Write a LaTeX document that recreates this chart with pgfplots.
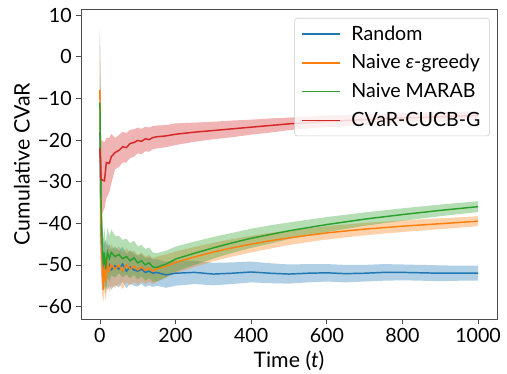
\documentclass[border=0pt]{standalone}
\usepackage{pgfplots}
\pgfplotsset{compat=1.18}
\usepackage{pgfplotstable}
\usepgfplotslibrary{fillbetween}
\usepackage{fontspec}
\setmainfont{Lato}
\definecolor{cA}{HTML}{1F77B4}
\definecolor{cB}{HTML}{FF7F0E}
\definecolor{cC}{HTML}{2CA02C}
\definecolor{cD}{HTML}{D62728}

\pgfplotstableread{
t m lo hi
0 -18 -45 5
3 -40 -52 -28
6 -48 -56 -40
10 -50.5 -56 -45
15 -49.5 -55 -44
20 -50.8 -56 -45.6
25 -50.0 -55 -45
30 -51.2 -56 -46.4
40 -50.2 -54.8 -45.6
50 -51.0 -55.4 -46.6
60 -49.8 -54 -45.6
70 -51.5 -55.6 -47.4
80 -50.5 -54.5 -46.5
90 -51.2 -55 -47.4
100 -51.5 -55.2 -47.8
110 -51.0 -54.6 -47.4
120 -51.8 -55.3 -48.3
130 -51.5 -54.9 -48.1
140 -52.0 -55.3 -48.7
150 -51.8 -55.0 -48.6
175 -52.4 -55.5 -49.3
200 -52.0 -55.0 -49.0
250 -51.8 -54.6 -49.0
300 -52.2 -54.9 -49.5
350 -52.0 -54.6 -49.4
400 -51.7 -54.2 -49.2
450 -52.0 -54.4 -49.6
500 -52.2 -54.5 -49.9
550 -52.0 -54.2 -49.8
600 -51.9 -54.0 -49.8
650 -52.1 -54.2 -50.0
700 -52.0 -54.0 -50.0
750 -51.8 -53.8 -49.8
800 -51.8 -53.7 -49.9
850 -51.9 -53.8 -50.0
900 -52.0 -53.9 -50.1
950 -52.0 -53.8 -50.2
1000 -52.0 -53.8 -50.2
}\random

\pgfplotstableread{
t m lo hi
0 -8 -35 3
3 -42 -52 -32
6 -50 -57 -43
9 -56 -59 -50
12 -50 -56 -44
15 -54 -58.5 -49
20 -49.5 -55 -44.5
25 -51.5 -56.5 -46.5
30 -50.0 -55 -45
40 -51.0 -55.5 -46.5
50 -50.0 -54.5 -45.5
60 -51.5 -55.8 -47.2
70 -50.0 -54 -46
80 -51.0 -55 -47
90 -50.3 -54 -46.6
100 -51.2 -54.8 -47.6
110 -50.5 -54 -47
120 -51.3 -54.6 -48
130 -50.8 -54 -47.6
140 -51.5 -54.6 -48.4
150 -51.0 -54 -48
175 -50.3 -53.1 -47.5
200 -49.4 -52.0 -46.8
250 -48.1 -50.5 -45.7
300 -46.9 -49.1 -44.7
350 -45.9 -48.0 -43.8
400 -45.0 -47.0 -43.0
450 -44.2 -46.1 -42.3
500 -43.5 -45.2 -41.8
600 -42.3 -43.9 -40.7
700 -41.4 -42.9 -39.9
800 -40.7 -42.1 -39.3
900 -40.1 -41.4 -38.8
1000 -39.5 -40.7 -38.3
}\greedy

\pgfplotstableread{
t m lo hi
0 -11 -35 5
3 -35 -45 -25
6 -45 -52 -38
9 -50 -56 -44
12 -47 -53 -41
15 -51 -57 -45
20 -47 -53 -41
25 -48.5 -54 -43
30 -47.0 -52.5 -41.5
40 -48.0 -53 -43
50 -47.5 -52 -43
60 -48.5 -53 -44
70 -48.0 -52.3 -43.7
80 -49.0 -53.2 -44.8
90 -48.3 -52.4 -44.2
100 -49.5 -53.5 -45.5
110 -49.0 -52.8 -45.2
120 -50.0 -53.8 -46.2
130 -49.5 -53.2 -45.8
140 -50.5 -54 -47
150 -50.6 -54 -47.2
175 -49.8 -53 -46.6
200 -48.6 -51.6 -45.6
250 -47.2 -50.0 -44.4
300 -45.9 -48.5 -43.3
350 -44.7 -47.1 -42.3
400 -43.6 -45.9 -41.3
450 -42.7 -44.9 -40.5
500 -41.8 -43.8 -39.8
600 -40.3 -42.1 -38.5
700 -39.0 -40.6 -37.4
800 -37.9 -39.4 -36.4
900 -36.9 -38.3 -35.5
1000 -36.0 -37.3 -34.7
}\marab

\pgfplotstableread{
t m lo hi
0 -22.0 -45 7
3 -29.5 -38 -20
12 -29.8 -36.5 -20.5
17 -25.4 -34 -19.5
25 -25.6 -32.5 -19.5
30 -24.0 -30.5 -18.5
40 -23.0 -27 -19.5
50 -22.5 -26.5 -18.8
60 -21.6 -25.4 -18.0
70 -21.8 -25.4 -18.3
80 -20.8 -24.3 -17.5
90 -20.6 -24.0 -17.4
100 -20.1 -23.2 -17.0
110 -20.3 -23.4 -17.3
120 -19.7 -22.7 -16.8
130 -19.9 -22.8 -17.0
140 -19.4 -22.2 -16.6
150 -19.2 -22.0 -16.5
175 -19.0 -21.7 -16.4
200 -18.6 -21.2 -16.0
250 -18.1 -20.4 -15.8
300 -17.7 -19.8 -15.6
350 -17.3 -19.3 -15.3
400 -16.9 -18.7 -15.1
450 -16.5 -18.2 -14.8
500 -16.1 -17.6 -14.6
550 -15.8 -17.2 -14.4
600 -15.5 -16.9 -14.1
700 -15.1 -16.4 -13.8
800 -14.7 -15.9 -13.5
900 -14.4 -15.5 -13.3
1000 -14.1 -15.1 -13.1
}\cvar

\begin{document}
\begin{tikzpicture}
\begin{axis}[
  scale only axis,
  width=312pt, height=232.5pt,
  xmin=-50, xmax=1050, ymin=-63, ymax=11.5,
  xtick={0,200,400,600,800,1000},
  xticklabels={0,200,400,600,800,1000},
  ytick={-60,-50,-40,-30,-20,-10,0,10},
  yticklabels={−60,−50,−40,−30,−20,−10,0,10},
  tick align=outside,
  tick pos=left,
  major tick length=3.5pt,
  axis line style={black!70},
  every tick/.style={black!70, line width=0.6pt},
  ticklabel style={font=\fontsize{14.7}{17}\selectfont},
  label style={font=\fontsize{16}{19}\selectfont},
  xlabel={Time (\textit{t})},
  ylabel={Cumulative CVaR},
  xlabel style={yshift=1pt},
  ylabel style={yshift=-1pt},
  legend cell align=left,
  legend style={at={(0.983,0.971)}, anchor=north east,
    draw=black!20, rounded corners=2pt, fill=white, fill opacity=0.8, text opacity=1,
    font=\fontsize{14.7}{17}\selectfont, row sep=5.4pt, inner xsep=5pt, inner ysep=3.5pt,
    /tikz/every odd column/.append style={column sep=6pt}},
  legend image code/.code={\draw[#1, line width=1.1pt] (0pt,0pt) -- (28.5pt,0pt);},
  every axis plot/.append style={line width=1.1pt},
]
% Random
\addplot[draw=none, name path=ah, forget plot] table[x=t,y=hi] {\random};
\addplot[draw=none, name path=al, forget plot] table[x=t,y=lo] {\random};
\addplot[cA, fill opacity=0.35, draw=none, forget plot] fill between[of=ah and al];
% greedy
\addplot[draw=none, name path=bh, forget plot] table[x=t,y=hi] {\greedy};
\addplot[draw=none, name path=bl, forget plot] table[x=t,y=lo] {\greedy};
\addplot[cB, fill opacity=0.35, draw=none, forget plot] fill between[of=bh and bl];
% marab
\addplot[draw=none, name path=ch, forget plot] table[x=t,y=hi] {\marab};
\addplot[draw=none, name path=cl, forget plot] table[x=t,y=lo] {\marab};
\addplot[cC, fill opacity=0.35, draw=none, forget plot] fill between[of=ch and cl];
% cvar
\addplot[draw=none, name path=dh, forget plot] table[x=t,y=hi] {\cvar};
\addplot[draw=none, name path=dl, forget plot] table[x=t,y=lo] {\cvar};
\addplot[cD, fill opacity=0.35, draw=none, forget plot] fill between[of=dh and dl];

\addplot[cA] table[x=t,y=m] {\random};
\addlegendentry{Random}
\addplot[cB] table[x=t,y=m] {\greedy};
\addlegendentry{Naive \textit{ε}-greedy}
\addplot[cC] table[x=t,y=m] {\marab};
\addlegendentry{Naive MARAB}
\addplot[cD] table[x=t,y=m] {\cvar};
\addlegendentry{CVaR-CUCB-G}
\end{axis}
\pgfresetboundingbox
\path ([shift={(-60.75pt,-41.25pt)}]current axis.south west) rectangle ([shift={(7.5pt,6.75pt)}]current axis.north east);
\end{tikzpicture}
\end{document}
